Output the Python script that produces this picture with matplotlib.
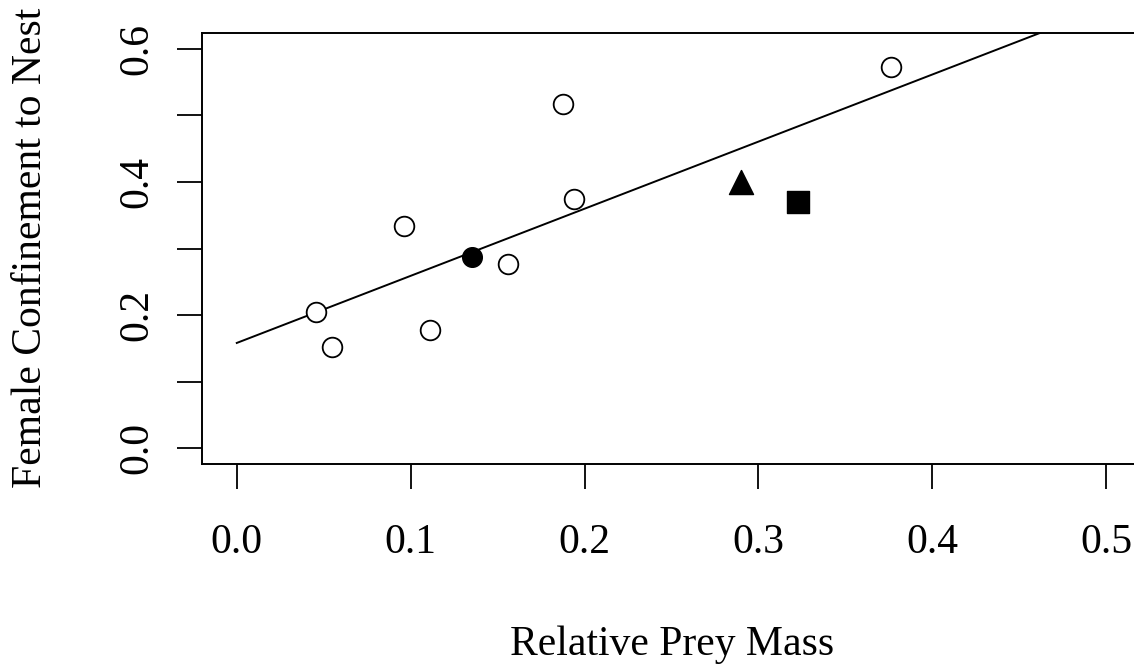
import numpy as np
import matplotlib
matplotlib.use("Agg")
import matplotlib.pyplot as plt

# -----------------------------
# Data
# -----------------------------
open_x = [0.0455, 0.0547, 0.0961, 0.111, 0.156, 0.1876, 0.194, 0.3763]
open_y = [0.204, 0.152, 0.334, 0.177, 0.277, 0.518, 0.375, 0.573]
filled_x = [0.1352]
filled_y = [0.287]
tri_x = [0.290]
tri_y = [0.400]
sq_x = [0.3228]
sq_y = [0.370]

fit_intercept = 0.158
fit_slope = 1.009

xticks = [0.0, 0.1, 0.2, 0.3, 0.4, 0.5]
yticks = [0.0, 0.1, 0.2, 0.3, 0.4, 0.5, 0.6]
ylabels = ["0.0", "", "0.2", "", "0.4", "", "0.6"]

plt.rcParams["font.family"] = ["Liberation Serif", "DejaVu Serif"]

W, H = 1134, 665
fig = plt.figure(figsize=(W / 100, H / 100), dpi=100)
ax = fig.add_axes([202 / W, 1 - 464 / H, (1141 - 202) / W, (464 - 33) / H])

ax.set_xlim(-0.02, 0.52)
ax.set_ylim(-0.024, 0.624)

# regression line
lx = np.array([0.0, 0.52])
ax.plot(lx, fit_intercept + fit_slope * lx, color="black", lw=1.4)

# points
ax.scatter(open_x, open_y, s=200, facecolors="white", edgecolors="black",
           linewidths=1.3, zorder=3)
ax.scatter(filled_x, filled_y, s=200, color="black", zorder=3)
ax.scatter(tri_x, tri_y, s=300, marker="^", color="black", zorder=3)
ax.scatter(sq_x, sq_y, s=250, marker="s", color="black", zorder=3)

# box: left, top, bottom
for side in ["left", "top", "bottom"]:
    ax.spines[side].set_linewidth(1.4)
ax.spines["right"].set_visible(False)

ax.set_xticks(xticks)
ax.set_xticklabels([f"{v:.1f}" for v in xticks])
ax.set_yticks(yticks)
ax.set_yticklabels(ylabels)

ax.tick_params(axis="x", length=18, width=1.3, pad=25, labelsize=30)
ax.tick_params(axis="y", length=18, width=1.3, pad=15, labelsize=30,
               labelrotation=90)
for lab in ax.get_yticklabels():
    lab.set_va("center")

fig.text(672 / W, 1 - 655 / H, "Relative Prey Mass", fontsize=30,
         ha="center", va="baseline")
fig.text(31 / W, 1 - 248 / H, "Female Confinement to Nest", fontsize=30,
         ha="center", va="center", rotation=90)

fig.savefig("out.png", dpi=100)
